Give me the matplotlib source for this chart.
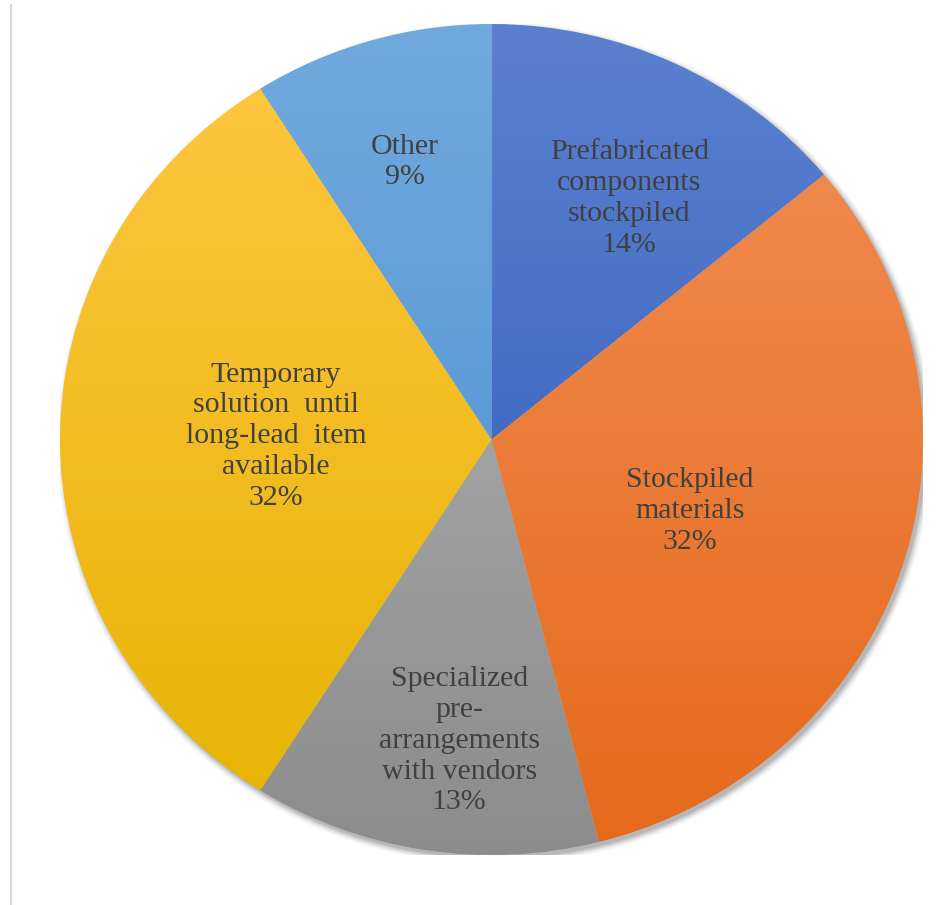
import numpy as np
import matplotlib.pyplot as plt
from matplotlib.patches import Ellipse
from matplotlib.colors import LinearSegmentedColormap

labels = ['Prefabricated\ncomponents\nstockpiled', 'Stockpiled\nmaterials',
          'Specialized\npre-\narrangements\nwith vendors',
          'Temporary\nsolution  until\nlong-lead  item\navailable', 'Other']
shares = [14, 32, 13, 32, 9]
# light (top) -> dark (bottom) gradient for each slice
tops = ['#5B80CF', '#F29058', '#B8B8B8', '#FFC844', '#70A9DD']
bottoms = ['#2A5AB8', '#E5691A', '#8C8C8C', '#E6B200', '#4A8ED3']
label_xy = [(0.319, 0.580), (0.460, -0.172), (-0.075, -0.725), (-0.499, 0.008), (-0.200, 0.668)]

plt.rcParams['font.family'] = ['Liberation Serif', 'DejaVu Serif']

fig = plt.figure(figsize=(9.53, 9.05), dpi=100)
ax = fig.add_axes([60 / 953, 50 / 905, 863 / 953, 831 / 905])
ax.axis('off')

# soft drop shadow under the pie
for i, a in enumerate(np.linspace(0.12, 0.02, 6)):
    ax.add_patch(Ellipse((0.007, -0.009), 2 + 0.006 * i, 2 + 0.006 * i,
                         facecolor='#404040', edgecolor='none', alpha=a, zorder=0))

wedges, _ = ax.pie(shares, startangle=90, counterclock=False, radius=1,
                   wedgeprops=dict(linewidth=0))
ax.set_xlim(-1, 1)
ax.set_ylim(-1, 1)
ax.set_aspect('auto')

grad = np.linspace(0, 1, 256).reshape(-1, 1)
for w, c0, c1 in zip(wedges, tops, bottoms):
    w.set_facecolor('none')
    cmap = LinearSegmentedColormap.from_list('g', [c0, c1])
    im = ax.imshow(grad, cmap=cmap, extent=(-1, 1, -1, 1), origin='upper',
                   aspect='auto', zorder=1, interpolation='bilinear')
    im.set_clip_path(w)

for lab, s, (x, y) in zip(labels, shares, label_xy):
    ax.text(x, y, f'{lab}\n{s}%', ha='center', va='center', fontsize=21.5,
            color='#404040', linespacing=1.24, zorder=3)

# thin frame line on the left edge
fig.add_artist(plt.Line2D([10.5 / 953, 10.5 / 953], [0, 1 - 5 / 905],
                          color='#d9d9d9', linewidth=1.5))

fig.savefig('out.png', dpi=100)
